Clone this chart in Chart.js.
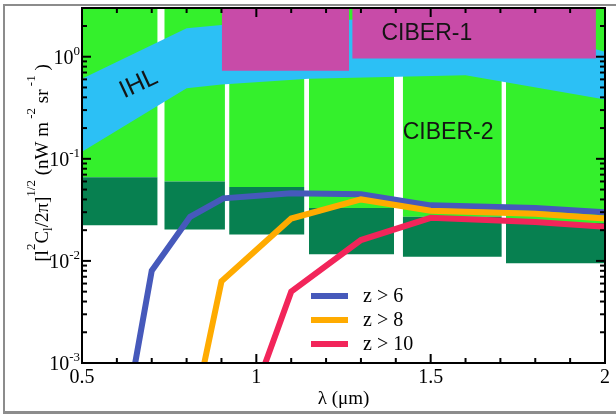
<!DOCTYPE html>
<html><head><meta charset="utf-8">
<script src="https://cdn.jsdelivr.net/npm/chart.js@4/dist/chart.umd.min.js"></script>
<style>
html,body{margin:0;padding:0;background:#fff;}
#wrap{position:relative;width:616px;height:414px;overflow:hidden;}
canvas{position:absolute;left:0;top:0;}
#frame{position:absolute;left:3px;top:4px;width:640px;height:405px;border-left:2px solid #8c8c8c;border-top:2px solid #8c8c8c;border-bottom:3px solid #8c8c8c;pointer-events:none;}
</style></head>
<body><div id="wrap"><canvas id="c" width="616" height="414"></canvas><div id="frame"></div></div>
<script>
// ---- CIBER-2 bands (light green above, dark green deep band) ----
const bandStart  = [0.5, 0.736, 0.922, 1.151, 1.420, 1.716];
const bandEnd    = [0.717, 0.910, 1.138, 1.395, 1.704, 2.0];
const darkTop    = [0.066, 0.060, 0.053, 0.033, 0.027, 0.0235];
const darkBottom = [0.0224, 0.0203, 0.0181, 0.0116, 0.0110, 0.0095];

// ---- CIBER-1 bands ----
const ciber1Start  = [0.901, 1.275];
const ciber1End    = [1.266, 1.974];
const ciber1Bottom = [0.73, 0.96];

// ---- IHL band ----
const ihlX     = [0.5, 0.8, 0.9, 1.15, 1.6, 2.0];
const ihlUpper = [0.61, 1.9, 2.05, 2.2, 2.6, 1.12];
const ihlLower = [0.117, 0.49, 0.535, 0.61, 0.66, 0.38];

// ---- high-z curves ----
const z6X  = [0.6, 0.7, 0.81, 0.905, 1.1, 1.3, 1.5, 1.8, 2.0];
const z6Y  = [1e-4, 0.008, 0.027, 0.041, 0.046, 0.045, 0.035, 0.033, 0.030];
const z8X  = [0.8, 0.9, 1.1, 1.3, 1.5, 1.8, 2.0];
const z8Y  = [1.5e-4, 0.0063, 0.026, 0.040, 0.031, 0.029, 0.026];
const z10X = [1.0, 1.1, 1.3, 1.5, 1.8, 2.0];
const z10Y = [5.7e-4, 0.005, 0.016, 0.0264, 0.024, 0.0216];

const seriesNames  = ['z > 6', 'z > 8', 'z > 10'];
const seriesColors = ['#4659bb', '#ffab00', '#f2255a'];

// ---- text labels in data coordinates ----
const labelText  = ['IHL', 'CIBER-1', 'CIBER-2'];
const labelX     = [0.663, 1.489, 1.55];
const labelY     = [0.54, 1.67, 0.179];
const labelAngle = [-25, 0, 0];
const labelSize  = [25, 23, 23];

// ---- axes ----
const xMin = 0.5, xMax = 2, xStep = 0.5, xMinor = 0.1;
const yMin = 1e-3, yMax = 3;
const yDecades = [-3, -2, -1, 0];

const LIGHT = '#34f02c', DARK = '#078050', IHL = '#2cc0f5', MAG = '#c84ba8';
const SERIF = '"Liberation Serif", "DejaVu Serif", serif';
const SANS = '"Liberation Sans", Arial, sans-serif';

const base = {borderWidth: 0, borderColor: 'rgba(0,0,0,0)', pointRadius: 0, pointHoverRadius: 0, clip: 0, tension: 0};
const datasets = [];
bandStart.forEach((x0, i) => {
  datasets.push(Object.assign({}, base, {label: 'CIBER-2 ' + (i + 1),
    data: [{x: x0, y: darkTop[i]}, {x: bandEnd[i], y: darkTop[i]}],
    fill: 'end', backgroundColor: LIGHT, order: 7}));
  datasets.push(Object.assign({}, base, {label: 'CIBER-2 deep ' + (i + 1),
    data: [{x: x0, y: darkBottom[i]}, {x: bandEnd[i], y: darkBottom[i]}],
    fill: {value: darkTop[i]}, backgroundColor: DARK, order: 6}));
});
datasets.push(Object.assign({}, base, {label: 'IHL upper',
  data: ihlX.map((x, i) => ({x, y: ihlUpper[i]})), fill: '+1', backgroundColor: IHL, order: 5}));
datasets.push(Object.assign({}, base, {label: 'IHL lower',
  data: ihlX.map((x, i) => ({x, y: ihlLower[i]})), fill: false, order: 5}));
ciber1Start.forEach((x0, i) => {
  datasets.push(Object.assign({}, base, {label: 'CIBER-1 ' + (i + 1),
    data: [{x: x0, y: ciber1Bottom[i]}, {x: ciber1End[i], y: ciber1Bottom[i]}],
    fill: 'end', backgroundColor: MAG, order: 4}));
});
[[z6X, z6Y], [z8X, z8Y], [z10X, z10Y]].forEach(([xs, ys], i) => {
  datasets.push({label: seriesNames[i], data: xs.map((x, j) => ({x, y: ys[j]})),
    borderColor: seriesColors[i], borderWidth: 6, pointRadius: 0, pointHoverRadius: 0,
    fill: false, tension: 0, clip: 0, borderJoinStyle: 'miter', borderCapStyle: 'butt', order: 3 - i});
});

function drawRuns(ctx, runs, startX) {
  let x = startX;
  runs.forEach(([t, kind]) => {
    if (kind === 0) { ctx.font = '19px ' + SERIF; ctx.fillText(t, x, 0); }
    else if (kind === 1) { ctx.font = '13px ' + SERIF; ctx.fillText(t, x, -13); }
    else { ctx.font = '13px ' + SERIF; ctx.fillText(t, x, 4); }
    x += ctx.measureText(t).width;
  });
  return x - startX;
}
function runsWidth(ctx, runs) {
  let w = 0;
  runs.forEach(([t, kind]) => { ctx.font = (kind === 0 ? '19px ' : '13px ') + SERIF; w += ctx.measureText(t).width; });
  return w;
}
const yTitleRuns = [['[l', 0], ['2', 1], ['C', 0], ['l', 2], ['/2π]', 0], ['1/2', 1], [' (nW m', 0], [' -2', 1], [' sr', 0], [' -1', 1], [' )', 0]];

const decor = {
  id: 'decor',
  afterDatasetsDraw(chart) {
    const {ctx, chartArea: a, scales: {x, y}} = chart;
    ctx.save();
    // region labels
    ctx.fillStyle = '#141414';
    ctx.textAlign = 'center'; ctx.textBaseline = 'middle';
    labelText.forEach((t, i) => {
      ctx.save();
      ctx.font = labelSize[i] + 'px ' + SANS;
      ctx.translate(x.getPixelForValue(labelX[i]), y.getPixelForValue(labelY[i]));
      ctx.rotate(labelAngle[i] * Math.PI / 180);
      ctx.fillText(t, 0, 0);
      ctx.restore();
    });
    // inward tick marks on all four sides
    ctx.strokeStyle = '#000'; ctx.lineWidth = 2;
    const seg = (x1, y1, x2, y2) => { ctx.beginPath(); ctx.moveTo(x1, y1); ctx.lineTo(x2, y2); ctx.stroke(); };
    const nx = Math.round((xMax - xMin) / xMinor);
    for (let i = 0; i <= nx; i++) {
      const v = xMin + i * xMinor;
      const px = x.getPixelForValue(v);
      const len = (i % Math.round(xStep / xMinor) === 0) ? 9 : 5;
      seg(px, a.bottom, px, a.bottom - len);
      seg(px, a.top, px, a.top + len);
    }
    for (let e = -3; e <= 0; e++) {
      for (let m = 1; m <= 9; m++) {
        const v = m * Math.pow(10, e);
        if (v > yMax) break;
        const py = y.getPixelForValue(v);
        const len = m === 1 ? 9 : 5;
        seg(a.left, py, a.left + len, py);
        seg(a.right, py, a.right - len, py);
      }
    }
    ctx.lineWidth = 2;
    ctx.strokeRect(a.left, a.top, a.right - a.left, a.bottom - a.top);
    // legend
    ctx.textAlign = 'left'; ctx.textBaseline = 'middle';
    ctx.font = '20px ' + SERIF;
    seriesNames.forEach((n, i) => {
      const ly = a.bottom - 67 + i * 24;
      ctx.strokeStyle = seriesColors[i]; ctx.lineWidth = 6; ctx.lineCap = 'butt';
      seg(a.left + 229, ly, a.left + 266, ly);
      ctx.fillStyle = '#000';
      ctx.fillText(n, a.left + 281, ly + 1);
    });
    ctx.restore();
  },
  afterDraw(chart) {
    const {ctx, scales: {y}} = chart;
    ctx.save();
    ctx.fillStyle = '#000';
    // y tick labels 10^n
    ctx.textBaseline = 'alphabetic'; ctx.textAlign = 'left';
    yDecades.forEach(e => {
      const py = y.getPixelForValue(Math.pow(10, e));
      ctx.font = '20px ' + SERIF;
      const wb = ctx.measureText('10').width;
      ctx.font = '13px ' + SERIF;
      const ex = String(e);
      const we = ctx.measureText(ex).width;
      const x0 = 80 - wb - we;
      ctx.font = '20px ' + SERIF;
      ctx.fillText('10', x0, py + 7);
      ctx.font = '13px ' + SERIF;
      ctx.fillText(ex, x0 + wb, py - 2);
    });
    // y axis title
    const w = runsWidth(ctx, yTitleRuns);
    ctx.translate(48, 163);
    ctx.rotate(-Math.PI / 2);
    drawRuns(ctx, yTitleRuns, -w / 2);
    ctx.restore();
  }
};

new Chart(document.getElementById('c'), {
  type: 'line',
  data: {datasets},
  options: {
    responsive: false, animation: false, events: [],
    layout: {padding: {top: 8, right: 11, left: 0, bottom: 0}},
    plugins: {legend: {display: false}, tooltip: {enabled: false}},
    scales: {
      x: {type: 'linear', min: xMin, max: xMax,
        ticks: {stepSize: xStep, font: {family: SERIF, size: 20}, color: '#000', padding: 3, maxRotation: 0, autoSkip: false,
          callback: (v) => String(Math.round(v * 10) / 10)},
        grid: {display: false, drawTicks: false}, border: {display: false},
        title: {display: true, text: 'λ (μm)', font: {family: SERIF, size: 19}, color: '#000', padding: {top: 0, bottom: 4}},
        afterFit(s) { s.height = 51; s.paddingLeft = 0; s.paddingRight = 0; }
      },
      y: {type: 'logarithmic', min: yMin, max: yMax,
        ticks: {display: false},
        grid: {display: false, drawTicks: false}, border: {display: false},
        afterFit(s) { s.width = 82; s.paddingTop = 0; s.paddingBottom = 0; }
      }
    }
  },
  plugins: [decor]
});
</script>
</body></html>
